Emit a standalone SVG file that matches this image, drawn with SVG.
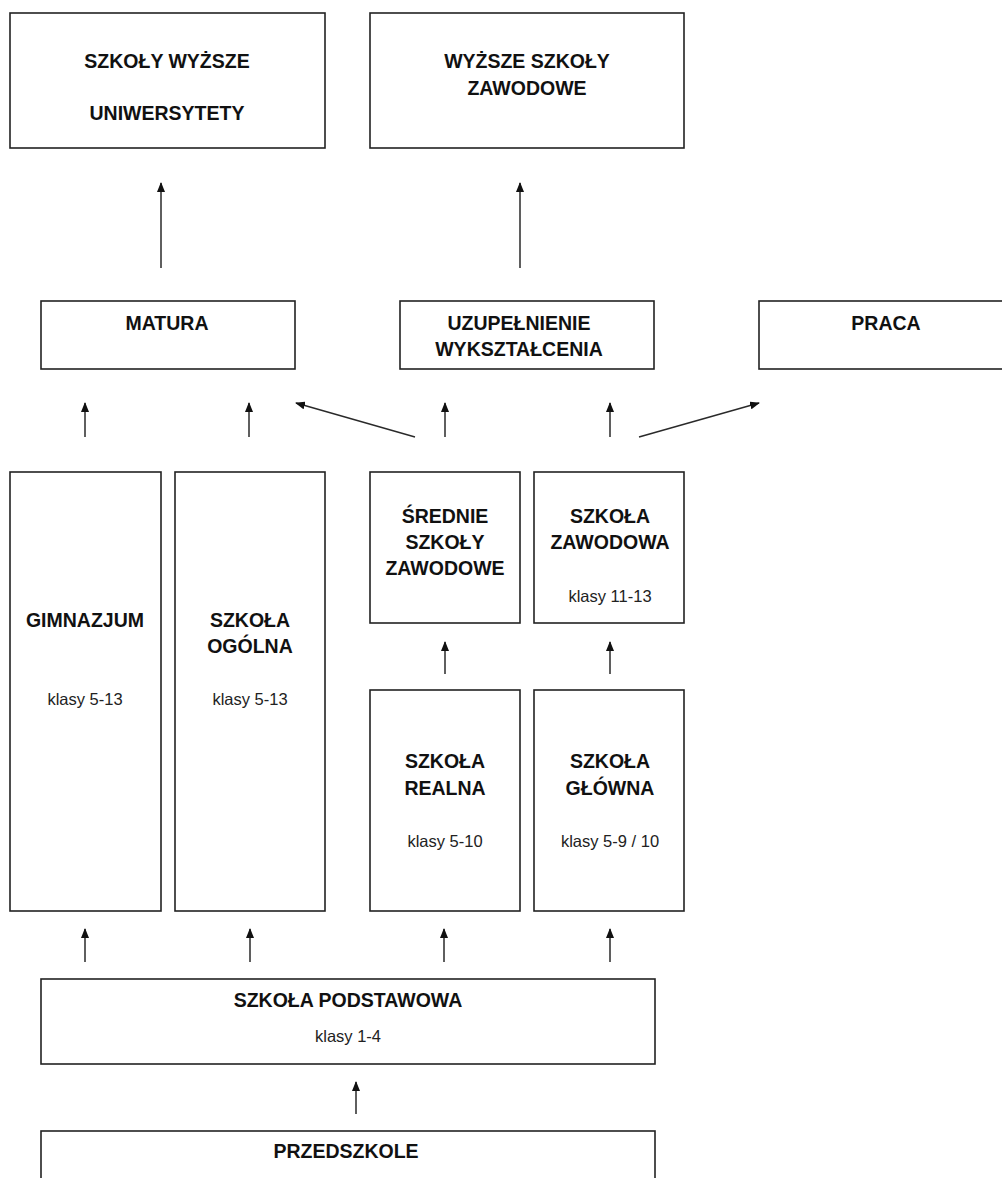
<svg xmlns="http://www.w3.org/2000/svg" width="1002" height="1178" viewBox="0 0 1002 1178">
<style>
.box{fill:#fff;stroke:#222;stroke-width:1.6}
.t{font-family:"Liberation Sans",Arial,sans-serif;font-weight:bold;font-size:19.5px;fill:#111;text-anchor:middle}
.s{font-family:"Liberation Sans",Arial,sans-serif;font-size:16.5px;fill:#222;text-anchor:middle}
.c{stroke:#2a2a2a;stroke-width:1.5;fill:none;marker-end:url(#ah)}
</style>
<defs>
<marker id="ah" viewBox="0 0 10 8" refX="9" refY="4" markerWidth="10" markerHeight="8" markerUnits="userSpaceOnUse" orient="auto">
<path d="M0,0 L10,4 L0,8 z" fill="#111"/>
</marker>
</defs>
<rect width="1002" height="1178" fill="#fff"/>
<g id="connectors">
<line class="c" x1="161" y1="268" x2="161" y2="183"/>
<line class="c" x1="520" y1="268" x2="520" y2="183"/>
<line class="c" x1="85" y1="437" x2="85" y2="403"/>
<line class="c" x1="249" y1="437" x2="249" y2="403"/>
<line class="c" x1="415" y1="437" x2="296" y2="403"/>
<line class="c" x1="445" y1="437" x2="445" y2="403"/>
<line class="c" x1="610" y1="437" x2="610" y2="403"/>
<line class="c" x1="639" y1="437" x2="759" y2="403"/>
<line class="c" x1="445" y1="674" x2="445" y2="642"/>
<line class="c" x1="610" y1="674" x2="610" y2="642"/>
<line class="c" x1="85" y1="962" x2="85" y2="929"/>
<line class="c" x1="250" y1="962" x2="250" y2="929"/>
<line class="c" x1="444" y1="962" x2="444" y2="929"/>
<line class="c" x1="610" y1="962" x2="610" y2="929"/>
<line class="c" x1="356" y1="1114" x2="356" y2="1082"/>
</g>
<g id="szkoly-wyzsze">
<rect class="box" x="10" y="13" width="315" height="135"/>
<text class="t" x="167" y="68">SZKOŁY WYŻSZE</text>
<text class="t" x="167" y="120">UNIWERSYTETY</text>
</g>
<g id="wyzsze-szkoly-zawodowe">
<rect class="box" x="370" y="13" width="314" height="135"/>
<text class="t" x="527" y="68">WYŻSZE SZKOŁY</text>
<text class="t" x="527" y="95">ZAWODOWE</text>
</g>
<g id="matura">
<rect class="box" x="41" y="301" width="254" height="68"/>
<text class="t" x="167" y="330">MATURA</text>
</g>
<g id="uzupelnienie">
<rect class="box" x="400" y="301" width="254" height="68"/>
<text class="t" x="519" y="330">UZUPEŁNIENIE</text>
<text class="t" x="519" y="356">WYKSZTAŁCENIA</text>
</g>
<g id="praca">
<rect class="box" x="759" y="301" width="254" height="68"/>
<text class="t" x="886" y="330">PRACA</text>
</g>
<g id="gimnazjum">
<rect class="box" x="10" y="472" width="151" height="439"/>
<text class="t" x="85" y="627">GIMNAZJUM</text>
<text class="s" x="85" y="705">klasy 5-13</text>
</g>
<g id="szkola-ogolna">
<rect class="box" x="175" y="472" width="150" height="439"/>
<text class="t" x="250" y="627">SZKOŁA</text>
<text class="t" x="250" y="653">OGÓLNA</text>
<text class="s" x="250" y="705">klasy 5-13</text>
</g>
<g id="srednie-szkoly-zawodowe">
<rect class="box" x="370" y="472" width="150" height="151"/>
<text class="t" x="445" y="523">ŚREDNIE</text>
<text class="t" x="445" y="549">SZKOŁY</text>
<text class="t" x="445" y="575">ZAWODOWE</text>
</g>
<g id="szkola-zawodowa">
<rect class="box" x="534" y="472" width="150" height="151"/>
<text class="t" x="610" y="523">SZKOŁA</text>
<text class="t" x="610" y="549">ZAWODOWA</text>
<text class="s" x="610" y="602">klasy 11-13</text>
</g>
<g id="szkola-realna">
<rect class="box" x="370" y="690" width="150" height="221"/>
<text class="t" x="445" y="768">SZKOŁA</text>
<text class="t" x="445" y="795">REALNA</text>
<text class="s" x="445" y="847">klasy 5-10</text>
</g>
<g id="szkola-glowna">
<rect class="box" x="534" y="690" width="150" height="221"/>
<text class="t" x="610" y="768">SZKOŁA</text>
<text class="t" x="610" y="795">GŁÓWNA</text>
<text class="s" x="610" y="847">klasy 5-9 / 10</text>
</g>
<g id="szkola-podstawowa">
<rect class="box" x="41" y="979" width="614" height="85"/>
<text class="t" x="348" y="1007">SZKOŁA PODSTAWOWA</text>
<text class="s" x="348" y="1042">klasy 1-4</text>
</g>
<g id="przedszkole">
<rect class="box" x="41" y="1131" width="614" height="80"/>
<text class="t" x="346" y="1158">PRZEDSZKOLE</text>
</g>
</svg>
